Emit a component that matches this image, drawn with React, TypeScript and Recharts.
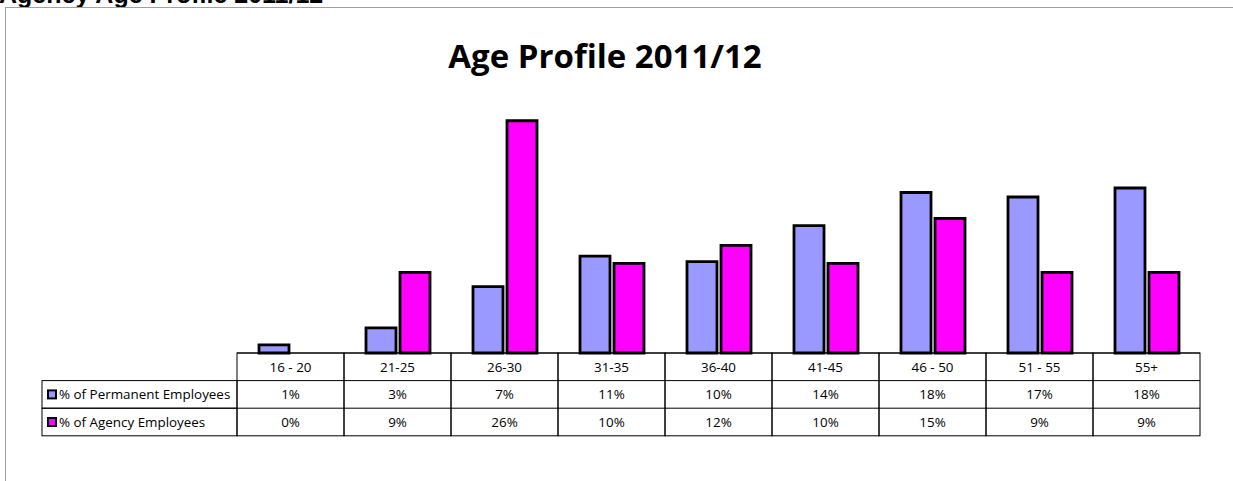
import { BarChart, Bar, XAxis, YAxis } from "recharts";

const CATEGORIES = ["16 - 20", "21-25", "26-30", "31-35", "36-40", "41-45", "46 - 50", "51 - 55", "55+"];
const PERMANENT = [0.9, 2.8, 7.4, 10.8, 10.2, 14.2, 17.9, 17.4, 18.4];
const AGENCY = [0, 9.0, 25.9, 10.0, 12.0, 10.0, 15.0, 9.0, 9.0];
const PERM_LABEL = "% of Permanent Employees";
const AGENCY_LABEL = "% of Agency Employees";

const PERM_COLOR = "#9999FF";
const AGENCY_COLOR = "#FF00FF";

const W = 1233;
const H = 481;
const PLOT_LEFT = 237;
const PLOT_RIGHT = 1200;
const PLOT_TOP = 84;
const PLOT_BOTTOM = 353;
const AXIS_H = 90;
const ROW_H = 27.6;
const LABEL_W = 195;
const FONT = "'Open Sans', sans-serif";
const TABLE_FS = 13.4;

const data = CATEGORIES.map((cat, i) => ({
  cat,
  permanent: PERMANENT[i],
  agency: AGENCY[i],
}));

const rows = [
  { label: PERM_LABEL, color: PERM_COLOR, values: PERMANENT },
  { label: AGENCY_LABEL, color: AGENCY_COLOR, values: AGENCY },
];

// draws the data table under the bars, one column per category tick
function TableTick(props: any) {
  const { x, y, index, payload } = props;
  const w = (PLOT_RIGHT - PLOT_LEFT) / CATEGORIES.length;
  const left = x - w / 2;
  const top = y;
  return (
    <g>
      <rect x={left} y={top} width={w} height={ROW_H * 3} fill="none" stroke="#000" strokeWidth={1} />
      <line x1={left} x2={left + w} y1={top + ROW_H} y2={top + ROW_H} stroke="#000" />
      <line x1={left} x2={left + w} y1={top + ROW_H * 2} y2={top + ROW_H * 2} stroke="#000" />
      <text x={x} y={top + ROW_H / 2} textAnchor="middle" dominantBaseline="central" fontSize={TABLE_FS} fontFamily={FONT} fill="#000">
        {payload.value}
      </text>
      {rows.map((r, ri) => (
        <text key={ri} x={x} y={top + ROW_H * (ri + 1.5)} textAnchor="middle" dominantBaseline="central" fontSize={TABLE_FS} fontFamily={FONT} fill="#000">
          {Math.round(r.values[index])}%
        </text>
      ))}
      {index === 0 &&
        rows.map((r, ri) => (
          <g key={"l" + ri}>
            <rect x={left - LABEL_W} y={top + ROW_H * (ri + 1)} width={LABEL_W} height={ROW_H} fill="none" stroke="#000" />
            <rect x={left - LABEL_W + 6} y={top + ROW_H * (ri + 1.5) - 4} width={8} height={8} fill={r.color} stroke="#000" strokeWidth={2} />
            <text x={left - LABEL_W + 17} y={top + ROW_H * (ri + 1.5)} dominantBaseline="central" fontSize={TABLE_FS} fontFamily={FONT} fill="#000">
              {r.label}
            </text>
          </g>
        ))}
    </g>
  );
}

export default function App() {
  return (
    <div style={{ position: "absolute", left: 0, top: 0, width: W, height: H, overflow: "hidden", background: "#fff" }}>
      <div
        style={{
          position: "absolute",
          left: -1,
          top: -18.5,
          fontFamily: "'Liberation Sans', Arial, sans-serif",
          fontWeight: "bold",
          fontSize: 25,
          lineHeight: "25px",
          whiteSpace: "nowrap",
        }}
      >
        Agency Age Profile 2011/12
      </div>
      <div style={{ position: "absolute", left: 5, top: 7, width: W - 5, height: H - 7, borderTop: "1px solid #a0a0a0", borderLeft: "1px solid #a0a0a0" }} />
      <div
        style={{
          position: "absolute",
          left: 0,
          top: 33,
          width: 1210,
          textAlign: "center",
          fontFamily: FONT,
          fontWeight: "bold",
          fontSize: 33,
        }}
      >
        Age Profile 2011/12
      </div>
      <div style={{ position: "absolute", left: 0, top: 0 }}>
        <BarChart
          width={W}
          height={H}
          data={data}
          margin={{ top: PLOT_TOP, right: W - PLOT_RIGHT, bottom: H - PLOT_BOTTOM - AXIS_H, left: PLOT_LEFT }}
          barGap={4}
          barSize={30}
        >
          <XAxis
            dataKey="cat"
            height={AXIS_H}
            interval={0}
            tickSize={0}
            tickMargin={0}
            tickLine={false}
            axisLine={{ stroke: "#000" }}
            tick={<TableTick />}
          />
          <YAxis hide domain={[0, 30]} />
          <Bar dataKey="permanent" name={PERM_LABEL} fill={PERM_COLOR} stroke="#000" strokeWidth={2.8} isAnimationActive={false} />
          <Bar dataKey="agency" name={AGENCY_LABEL} fill={AGENCY_COLOR} stroke="#000" strokeWidth={2.8} isAnimationActive={false} />
        </BarChart>
      </div>
    </div>
  );
}
